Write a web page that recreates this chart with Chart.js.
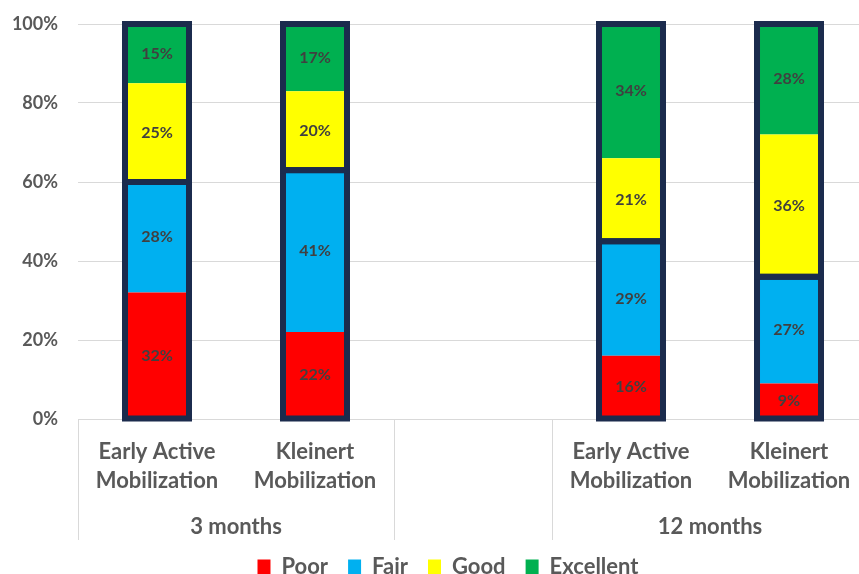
<!DOCTYPE html>
<html>
<head>
<meta charset="utf-8">
<script src="https://cdn.jsdelivr.net/npm/chart.js@4/dist/chart.umd.min.js"></script>
<style>
html,body{margin:0;padding:0;background:#fff;overflow:hidden;}
#wrap{position:absolute;left:0;top:0;width:870px;height:574px;}
</style>
</head>
<body>
<div id="wrap"><canvas id="c"></canvas></div>
<script>
// ---- data ----
const categories = [
  ['Early Active', 'Mobilization'],
  ['Kleinert', 'Mobilization'],
  '',
  ['Early Active', 'Mobilization'],
  ['Kleinert', 'Mobilization']
];
const groups = ['3 months', '', '12 months'];
const groupSpans = [[0, 1], [2, 2], [3, 4]];
const poor      = [32, 22, null, 16, 9];
const fair      = [28, 41, null, 29, 27];
const good      = [25, 20, null, 21, 36];
const excellent = [15, 17, null, 34, 28];
const yTicks = [0, 20, 40, 60, 80, 100];

const FONT = 'Lato, "Open Sans", sans-serif';
const TEXT = '#595959';
const GRID = '#d9d9d9';
const NAVY = '#1b2b4d';
const SEP_LEN = 121;
const LEGEND_LEFT = 26;

const overlayPlugin = {
  id: 'overlay',
  beforeDraw(chart) {
    // legend is centred on a slightly wider box in the original
    if (chart.legend) {
      chart.legend.left = LEGEND_LEFT;
      chart.legend.right = chart.width;
    }
  },
  afterDatasetsDraw(chart) {
    const ctx = chart.ctx;
    const metas = [0, 1, 2, 3].map(i => chart.getDatasetMeta(i));
    ctx.save();
    ctx.strokeStyle = NAVY;
    ctx.lineWidth = 6;
    ctx.lineJoin = 'miter';
    for (let i = 0; i < categories.length; i++) {
      if (poor[i] == null) continue;
      const e0 = metas[0].data[i], e1 = metas[1].data[i], e2 = metas[2].data[i], e3 = metas[3].data[i];
      const w = e0.width;
      const x = e0.x - w / 2;
      ctx.strokeRect(x, e1.y, w, e0.base - e1.y);
      ctx.strokeRect(x, e3.y, w, e2.base - e3.y);
    }
    ctx.fillStyle = '#404040';
    ctx.font = 'bold 16px ' + FONT;
    ctx.textAlign = 'center';
    ctx.textBaseline = 'middle';
    chart.data.datasets.forEach((ds, di) => {
      metas[di].data.forEach((el, i) => {
        const v = ds.data[i];
        if (v == null) return;
        ctx.fillText(v + '%', el.x, (el.y + el.base) / 2);
      });
    });
    ctx.restore();
  },
  afterDraw(chart) {
    const ctx = chart.ctx;
    const xs = chart.scales.x;
    const area = chart.chartArea;
    const top = area.bottom;
    const bottom = area.bottom + SEP_LEN;
    const half = (xs.getPixelForValue(1) - xs.getPixelForValue(0)) / 2;
    ctx.save();
    ctx.strokeStyle = GRID;
    ctx.lineWidth = 1;
    const bounds = [xs.getPixelForValue(0) - half];
    groupSpans.forEach(s => bounds.push(xs.getPixelForValue(s[1]) + half));
    bounds.forEach(b => {
      const bx = Math.round(b) + 0.5;
      ctx.beginPath();
      ctx.moveTo(bx, top);
      ctx.lineTo(bx, bottom);
      ctx.stroke();
    });
    ctx.fillStyle = TEXT;
    ctx.font = 'bold 22px ' + FONT;
    ctx.textAlign = 'center';
    ctx.textBaseline = 'middle';
    groupSpans.forEach((s, gi) => {
      const cx = (xs.getPixelForValue(s[0]) + xs.getPixelForValue(s[1])) / 2;
      ctx.fillText(groups[gi], cx, area.bottom + 108);
    });
    ctx.restore();
  }
};

new Chart(document.getElementById('c'), {
  type: 'bar',
  data: {
    labels: categories,
    datasets: [
      { label: 'Poor', data: poor, backgroundColor: '#ff0000' },
      { label: 'Fair', data: fair, backgroundColor: '#00b0f0' },
      { label: 'Good', data: good, backgroundColor: '#ffff00' },
      { label: 'Excellent', data: excellent, backgroundColor: '#00b050' }
    ]
  },
  options: {
    responsive: true,
    maintainAspectRatio: false,
    animation: false,
    datasets: { bar: { categoryPercentage: 1, barPercentage: 0.405 } },
    layout: { padding: { top: 24, right: 2, left: 0, bottom: -14 } },
    plugins: {
      tooltip: { enabled: false },
      legend: {
        position: 'bottom',
        labels: {
          boxWidth: 13,
          boxHeight: 15,
          padding: 20,
          color: TEXT,
          font: { family: FONT, size: 22, weight: 'bold' }
        }
      }
    },
    scales: {
      x: {
        stacked: true,
        grid: { display: false },
        border: { display: true, color: GRID, width: 1 },
        ticks: {
          color: TEXT,
          font: { family: FONT, size: 22, weight: 'bold', lineHeight: 1.32 },
          padding: 10,
          maxRotation: 0,
          autoSkip: false
        },
        afterFit(s) { s.height = 117; }
      },
      y: {
        stacked: true,
        min: 0,
        max: 100,
        afterBuildTicks(s) { s.ticks = yTicks.map(v => ({ value: v })); },
        grid: { color: GRID, lineWidth: 1, drawTicks: false },
        border: { display: false },
        ticks: {
          color: TEXT,
          padding: 20,
          font: { family: FONT, size: 18, weight: 'bold' },
          callback: v => v + '%'
        },
        afterFit(s) { s.width = 78; s.paddingTop = 11; s.paddingBottom = 11; }
      }
    }
  },
  plugins: [overlayPlugin]
});
</script>
</body>
</html>
